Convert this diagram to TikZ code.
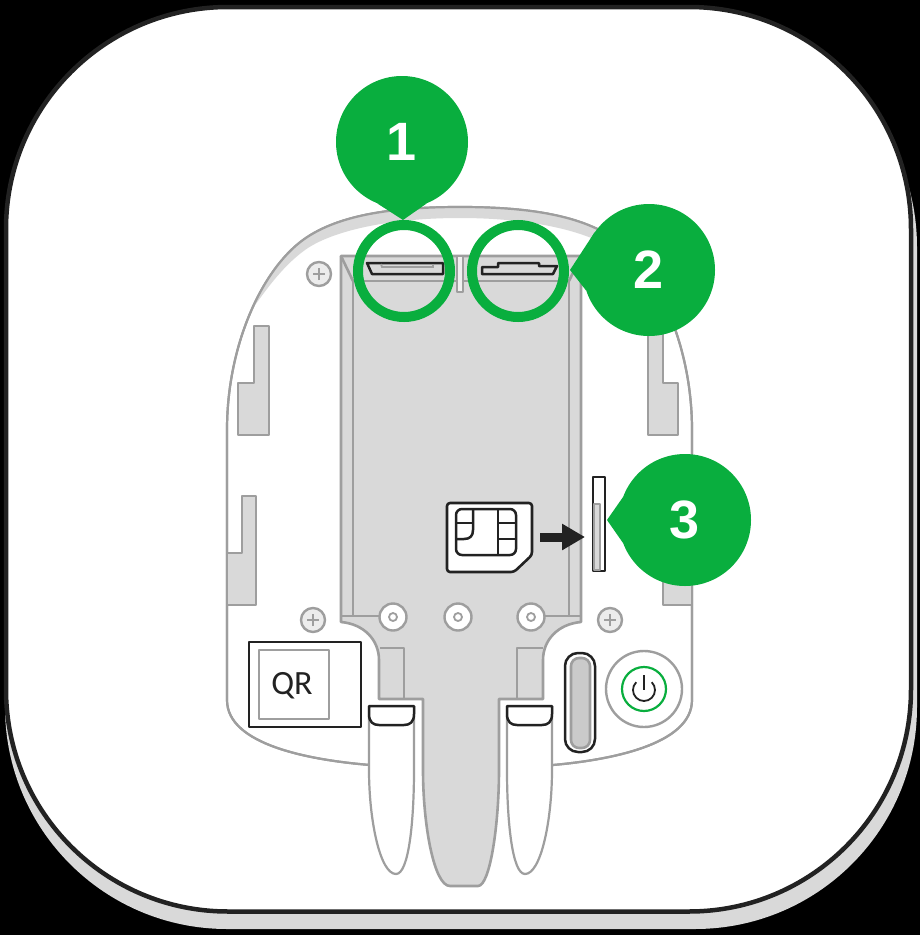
\documentclass[tikz,border=0pt]{standalone}
\usepackage{fontspec}
\usepackage{tikz}
\usetikzlibrary{arrows.meta}
\setmainfont{Liberation Sans}
\newfontfamily\qrfont{Carlito}
\definecolor{ajaxgreen}{HTML}{09AE3E}
\definecolor{partgray}{HTML}{9E9E9E}
\definecolor{partfill}{HTML}{D9D9D9}
\definecolor{inkdark}{HTML}{222222}
\def\bodypath{(370,765) .. controls (310,760) and (227,745) .. (227,700) -- (227,430)
  .. controls (227,345) and (262,270) .. (303,240) .. controls (340,213) and (400,207) .. (460,207)
  .. controls (519,207) and (579,213) .. (616,240) .. controls (657,270) and (692,345) .. (692,430)
  -- (692,700) .. controls (692,745) and (609,760) .. (553,765)}

\begin{document}
\begin{tikzpicture}[
  x=1pt, y=-1pt,
  part/.style={draw=partgray, line width=2.6pt, fill=partfill, line join=round},
  blank/.style={draw=partgray, line width=2.2pt, fill=white},
  inked/.style={draw=inkdark, line width=2.5pt, line join=round},
  screw/.style={circle, draw=partgray, line width=2.4pt, fill=partfill!50, minimum size=24pt, inner sep=0pt},
  post/.style={circle, draw=partgray, line width=2.4pt, fill=white, minimum size=27pt, inner sep=0pt},
  hole/.style={circle, draw=partgray, line width=1.8pt, fill=white, minimum size=8pt, inner sep=0pt},
  badge/.style={circle, fill=ajaxgreen, minimum size=132pt, inner sep=0pt, text=white, font=\fontsize{54}{54}\selectfont\bfseries},
  ring/.style={circle, draw=ajaxgreen, line width=10pt, minimum size=92pt, inner sep=0pt}
]
\useasboundingbox (0,0) rectangle (920,935);
\fill[black] (0,0) rectangle (920,935);
% case
\fill[partfill, rounded corners=222pt] (5,25) rectangle (917,929);
\draw[fill=white, draw=inkdark, line width=4.5pt, rounded corners=222pt] (6,7) rectangle (911,911.5);
% body
\draw[blank] \bodypath;
\begin{scope}
  \clip \bodypath -- cycle;
  \fill[partfill] (200,315) -- (250,312) .. controls (262,296) and (280,268) .. (305,250) .. controls (330,232) and (385,218) .. (460,218)
    .. controls (534,218) and (589,232) .. (614,250) .. controls (639,268) and (657,296) .. (669,312) -- (720,315) -- (720,190) -- (200,190) -- cycle;
\end{scope}
\draw[blank, fill=none] \bodypath;
% clips
\draw[part] (238,383) -- (254,383) -- (254,326) -- (269,326) -- (269,435) -- (238,435) -- cycle;
\draw[part] (678,383) -- (663,383) -- (663,326) -- (648,326) -- (648,435) -- (678,435) -- cycle;
\draw[part] (227,553) -- (242,553) -- (242,496) -- (256,496) -- (256,605) -- (227,605) -- cycle;
\draw[part] (692,553) -- (678,553) -- (678,496) -- (663,496) -- (663,605) -- (692,605) -- cycle;
% tray
\draw[part] (341,256) -- (581,256) -- (581,622) .. controls (558,624) and (543,640) .. (543,660) -- (543,699) -- (499,699)
  -- (499,770) .. controls (499,825) and (490,886) .. (478,886) -- (450,886)
  .. controls (434,886) and (423,825) .. (423,770) -- (423,699) -- (379,699) -- (379,660)
  .. controls (379,640) and (364,624) .. (341,622) -- cycle;
\draw[part] (353,616) -- (353,281) -- (569,281) -- (569,616);
\draw[part] (341,616) -- (380,616) (581,616) -- (543,616);
\draw[part] (341,256) -- (353,281) (581,256) -- (569,281);
\draw[part, fill=partfill!40] (457,256) rectangle (463,292);
\draw[part] (380,648) -- (404,648) -- (404,699);
\draw[part] (543,648) -- (517,648) -- (517,699);
% posts and screws
\node[post] (postl) at (393,617) {};
\node[post] (postm) at (458,617) {};
\node[post] (postr) at (531,617) {};
\node[hole] at (postl) {};
\node[hole] at (postm) {};
\node[hole] at (postr) {};
\foreach \sx/\sy/\sname in {319/274/screwa, 313/620/screwb, 610/620/screwc}{
  \node[screw] (\sname) at (\sx,\sy) {};
  \draw[partgray, line width=1.8pt] ([xshift=-6pt]\sname.center) -- ([xshift=6pt]\sname.center)
    ([yshift=-6pt]\sname.center) -- ([yshift=6pt]\sname.center);
}
% ports
\draw[inked] (367,263) -- (443,263) -- (443,274) -- (372,274) -- cycle;
\draw[partgray, line width=1.8pt] (381,264) -- (382,267) -- (433,267) -- (433,264);
\draw[inked] (482,267) -- (498,267) -- (498,263) -- (539,263) -- (539,266) -- (557,266) -- (553,274) -- (482,274) -- cycle;
% sim card
\draw[inked, fill=white, line width=2.6pt, rounded corners=3pt] (447,503) -- (532,503) -- (532,555) -- (514,572) -- (447,572) -- cycle;
\draw[inked, rounded corners=6pt] (456,509) rectangle (516,555);
\draw[inked] (473,509) -- (473,530) .. controls (473,536) and (470,539) .. (464,539) -- (456,539);
\draw[inked] (456,523) -- (473,523);
\draw[inked] (498,509) -- (498,555) (498,523) -- (516,523) (498,539) -- (516,539);
% sim slot
\coordinate (arrowfrom) at (540,537);
\coordinate (arrowto) at (585,537);
\draw[inkdark, line width=9pt, -{Triangle[length=23pt,width=25pt]}] (arrowfrom) -- (arrowto);
\draw[inked, fill=white] (593,477) rectangle (605,571);
\draw[part, line width=1.6pt] (594,504) rectangle (600,570);
% qr
\draw[inked, fill=white] (249,642) rectangle (361,727);
\draw[part, fill=white] (259,650) rectangle (329,719);
\node[font=\qrfont\fontsize{34}{34}\selectfont, text=inkdark] (qr) at (292,686) {QR};
% fingers
\draw[blank] (369,706) -- (369,770) .. controls (369,820) and (380,874) .. (396,874) .. controls (409,874) and (414,820) .. (414,770) -- (414,706);
\draw[blank] (552,706) -- (552,770) .. controls (552,820) and (541,874) .. (525,874) .. controls (512,874) and (507,820) .. (507,770) -- (507,706);
\draw[inked, fill=white] (369,706) -- (414,706) -- (414,714) .. controls (414,722) and (410,725) .. (404,725) -- (379,725) .. controls (373,725) and (369,722) .. (369,714) -- cycle;
\draw[inked, fill=white] (507,706) -- (552,706) -- (552,714) .. controls (552,722) and (548,725) .. (542,725) -- (517,725) .. controls (511,725) and (507,722) .. (507,714) -- cycle;
% button
\draw[inked, fill=white, rounded corners=13pt] (565,653) rectangle (595,752);
\draw[part, fill=partfill!93!black, rounded corners=8pt] (571,658) rectangle (590,748);
\node[circle, draw=partgray, line width=2.4pt, fill=white, minimum size=76pt, inner sep=0pt] (power) at (644,689) {};
\node[circle, draw=ajaxgreen, line width=2.2pt, minimum size=44pt, inner sep=0pt] (powerring) at (644,689) {};
\draw[inkdark, line width=1.8pt] (644,675) -- (644,690);
\draw[inkdark, line width=1.8pt] (636.2,682.2) arc[start angle=135, end angle=405, radius=11pt];
% callouts
\node[ring] (ringa) at (404,271) {};
\node[ring] (ringb) at (518,271) {};
\node[badge] (one) at (402,142) {\raisebox{-2pt}{1}};
\node[badge] (two) at (649,270) {2};
\node[badge] (three) at (685,520) {3};
\coordinate (tipa) at (403,220);
\coordinate (tipb) at (570,270);
\coordinate (tipc) at (607,520);
\fill[ajaxgreen] (one.-112) -- (tipa) -- (one.-68) -- cycle;
\fill[ajaxgreen] (two.145) -- (tipb) -- (two.198) -- cycle;
\fill[ajaxgreen] (three.160) -- (tipc) -- (three.200) -- cycle;
\end{tikzpicture}
\end{document}
